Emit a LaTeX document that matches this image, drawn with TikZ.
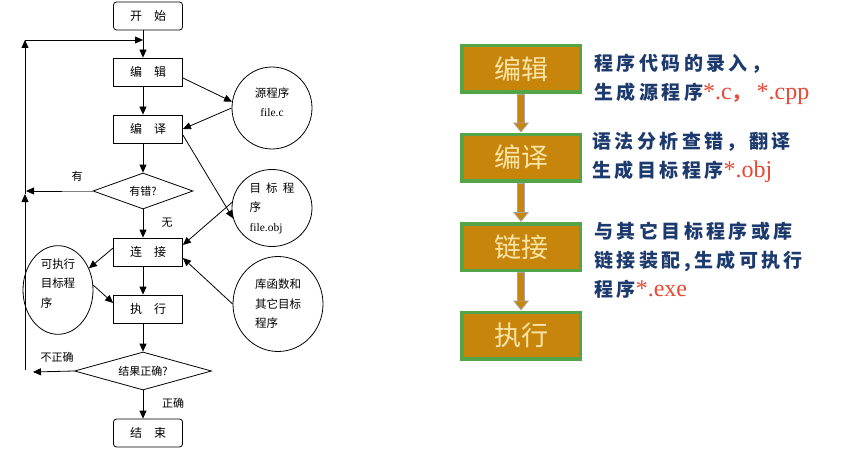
\documentclass[tikz,border=0pt]{standalone}
\usepackage{fontspec}
\setmainfont{Liberation Serif}
\newfontfamily\cjk{Noto Sans CJK SC}
\usetikzlibrary{shapes.geometric,arrows.meta}
\definecolor{boxor}{RGB}{200,133,12}
\definecolor{boxgr}{RGB}{84,164,72}
\definecolor{boxtx}{RGB}{250,228,165}
\definecolor{bluetx}{RGB}{28,58,110}
\definecolor{redtx}{RGB}{232,72,52}
\newcommand\rd[1]{{\color{redtx}\rmfamily\mdseries\fontsize{24}{28}\selectfont #1}}
\begin{document}
\begin{tikzpicture}[x=1pt,y=-1pt,
  line width=0.8pt,
  arr/.style={-{Triangle[length=8pt,width=7pt]}},
  fbox/.style={draw, minimum width=69pt, minimum height=28pt, inner sep=0pt, font=\cjk\fontsize{12}{14}\selectfont},
  tbox/.style={fbox, rounded corners=3pt},
  dec/.style={diamond, draw, inner sep=0pt, font=\cjk\fontsize{11}{13}\selectfont},
  circ/.style={ellipse, draw, inner sep=0pt, align=left, font=\cjk\fontsize{11.5}{19.5}\selectfont},
  lbl/.style={font=\cjk\fontsize{11}{13}\selectfont, inner sep=0pt},
  rbox/.style={draw=boxgr, line width=3.5pt, fill=boxor, minimum width=118.5pt, minimum height=46.5pt, text=boxtx, font=\cjk\fontsize{27}{30}\selectfont},
  desc/.style={anchor=west, align=left, text=bluetx, inner sep=0pt, font=\cjk\bfseries\fontsize{19}{29}\selectfont\addfontfeature{LetterSpace=18}},
  fatout/.style={line width=8.5pt, draw=gray!70},
  fatin/.style={line width=6.5pt, draw=boxor},
  fathead/.style={line width=0.8pt, draw=gray!70, -{Triangle[length=10pt,width=16pt,fill=boxor]}},
]
\useasboundingbox (0,0) rectangle (844,452);
\fill[white] (0,0) rectangle (844,452);

% left flowchart
\node[tbox] (start) at (148,16) {开\hspace{1em}始};
\node[fbox] (edit) at (148,72) {编\hspace{1em}辑};
\node[fbox] (comp) at (148,129) {编\hspace{1em}译};
\node[dec, aspect=2.8, minimum width=100pt, minimum height=36pt] (err) at (143,191) {有错?};
\node[fbox] (link) at (148,252) {连\hspace{1em}接};
\node[fbox] (exec) at (148,309) {执\hspace{1em}行};
\node[dec, aspect=3.6, minimum width=137pt, minimum height=38pt] (res) at (143,371) {结果正确?};
\node[tbox] (stop) at (148,433) {结\hspace{1em}束};

\node[circ, align=center, minimum width=80pt, minimum height=82pt] (src) at (272,108) {源程序\\{\rmfamily file.c}\\[-7.5pt]\mbox{}};
\node[circ, minimum width=80pt, minimum height=77pt] (obj) at (272,208) {目\hspace{0.45em}标\hspace{0.45em}程\\序\\{\rmfamily file.obj}};
\node[circ, minimum width=90pt, minimum height=95pt] (lib) at (278,304) {库函数和\\其它目标\\程序};
\node[circ, minimum width=70pt, minimum height=85pt] (exe) at (58,290) {可执行\\目标程\\序\\[-5.5pt]\mbox{}};

\node[lbl] (you) at (77,176) {有};
\node[lbl] (wu) at (167,223) {无};
\node[lbl] (bzq) at (57,357) {不正确};
\node[lbl] (zq) at (173,403) {正确};

\coordinate (ltop) at (25,40);
\coordinate (ljoin) at (143,40);
\coordinate (lmid) at (25,194);
\coordinate (lbot) at (25,370);
\coordinate (errgap) at (62,191);
\coordinate (errend) at (26,191);
\coordinate (resend) at (33,372);

\draw[arr] (start.south -| err) -- (edit.north -| err);
\draw[arr] (ltop) -- (ljoin);
\draw[arr] (edit.south -| err) -- (comp.north -| err);
\draw[arr] (comp.south -| err) -- (err.north);
\draw[arr] (err.south) -- (link.north -| err);
\draw[arr] (link.south -| err) -- (exec.north -| err);
\draw[arr] (exec.south -| err) -- (res.north);
\draw[arr] (res.south) -- (stop.north -| err);
\draw[gray, line width=0.5pt] (err.west) -- (errgap);
\draw[arr] (errgap) -- (errend);
\draw[arr] (lbot) -- (lmid);
\draw[arr] (lmid) -- (ltop);
\draw[arr] (res.west) -- (resend);

\draw[arr] ([yshift=-6pt]edit.east) -- (src.171);
\draw[arr] (src.west) -- (comp.east);
\draw[arr] ([yshift=-6pt]comp.east) -- (obj.195);
\draw[arr] (obj.172) -- ([yshift=7pt]link.east);
\draw[arr] (lib.west) -- ([yshift=-6pt]link.east);
\draw[arr] ([yshift=4pt]link.west) -- (exe.35);
\draw[arr] (exe.8) -- ([yshift=6pt]exec.west);

% right flowchart
\node[rbox] (r1) at (521,69) {编辑};
\node[rbox] (r2) at (521,157.5) {编译};
\node[rbox] (r3) at (521,247) {链接};
\node[rbox] (r4) at (521,335.5) {执行};

\draw[fatout] (r1.south) -- ([yshift=10pt]r2.north);
\draw[fatin] ([yshift=-1pt]r1.south) -- ([yshift=10pt]r2.north);
\draw[fathead] ([yshift=10pt]r2.north) -- (r2.north);
\draw[fatout] (r2.south) -- ([yshift=10pt]r3.north);
\draw[fatin] ([yshift=-1pt]r2.south) -- ([yshift=10pt]r3.north);
\draw[fathead] ([yshift=10pt]r3.north) -- (r3.north);
\draw[fatout] (r3.south) -- ([yshift=10pt]r4.north);
\draw[fatin] ([yshift=-1pt]r3.south) -- ([yshift=10pt]r4.north);
\draw[fathead] ([yshift=10pt]r4.north) -- (r4.north);

\node[desc] (d1) at (594,79.5) {程序代码的录入，\\生成源程序\rd{*.c}{\color{redtx}，}\hspace{6pt}\rd{*.cpp}};
\node[desc] (d2) at (592,157.5) {语法分析查错，翻译\\生成目标程序\rd{*.obj}};
\node[desc] (d3) at (594,260) {与其它目标程序或库\\链接装配,生成可执行\\程序\rd{*.exe}};
\end{tikzpicture}
\end{document}
